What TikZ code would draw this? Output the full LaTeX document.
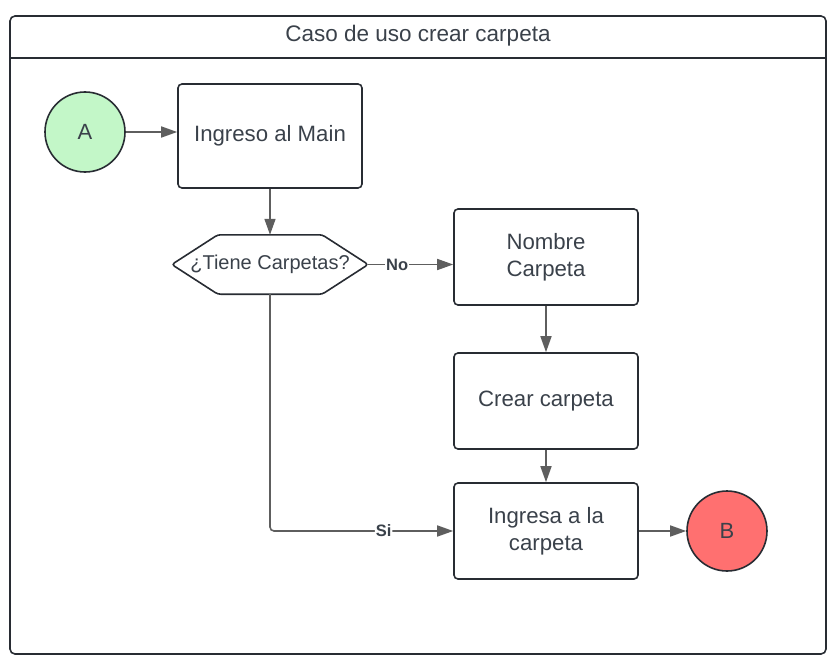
\documentclass[tikz,border=0pt]{standalone}
\usepackage{fontspec}
\setmainfont{Liberation Sans}
\usetikzlibrary{arrows.meta,calc}
\definecolor{txt}{HTML}{3A414A}
\definecolor{edge}{HTML}{282C33}
\definecolor{conn}{HTML}{5E5E5E}
\definecolor{agreen}{HTML}{C3F7C8}
\definecolor{bred}{HTML}{FF7070}
\tikzset{
  procbox/.style={draw=edge, line width=1.6pt, rounded corners=4pt, minimum width=184pt, minimum height=96pt, align=center, text=txt, font=\fontsize{22.2}{27}\selectfont, inner sep=0pt},
  endpt/.style={circle, draw=edge, line width=1.6pt, minimum size=80pt, inner sep=0pt, text=txt, font=\fontsize{22}{26}\selectfont},
  conn/.style={draw=conn, line width=1.6pt, -{Triangle[length=16pt,width=11pt]}},
  lbl/.style={fill=white, inner sep=1pt, text=txt, font=\bfseries\fontsize{16.5}{18}\selectfont},
}
\begin{document}
\begin{tikzpicture}[x=1pt,y=-1pt]
\useasboundingbox (0,0) rectangle (838,666);
\draw[draw=edge, line width=1.6pt, rounded corners=5pt] (10,16) rectangle (826,654);
\draw[draw=edge, line width=1.6pt] (10,58) -- (826,58);
\node[text=txt, font=\fontsize{22.5}{26}\selectfont] (title) at (418,36) {Caso de uso crear carpeta};

\node[endpt, fill=agreen] (A) at (85,132) {A};
\node[procbox, minimum height=104pt] (main) at (270,136) {Ingreso al Main};
\node[minimum width=196pt, minimum height=59pt, inner sep=0pt, text=txt, font=\fontsize{20}{24}\selectfont] (hex) at (270,264.5) {¿Tiene Carpetas?};
\draw[draw=edge, line width=1.6pt, rounded corners=3pt]
  (hex.west) -- ($(hex.north west)+(46,0)$) -- ($(hex.north east)+(-46,0)$) -- (hex.east)
  -- ($(hex.south east)+(-46,0)$) -- ($(hex.south west)+(46,0)$) -- cycle;
\node[procbox] (nombre) at (546,257) {Nombre\\Carpeta};
\node[procbox] (crear) at (546,401) {Crear carpeta};
\node[procbox] (ingresa) at (546,531) {Ingresa a la\\carpeta};
\node[endpt, fill=bred] (B) at (727,531) {B};

\draw[conn] (A.east) -- (A.east -| main.west);
\draw[conn] (main) -- (hex);
\draw[conn] (hex.east) -- node[lbl, pos=0.34] {No} (hex.east -| nombre.west);
\draw[conn] (nombre) -- (crear);
\draw[conn] (crear) -- (ingresa);
\draw[conn, rounded corners=4pt] (hex.south) |- node[lbl, pos=0.81] {Si} (ingresa.west);
\draw[conn] (ingresa) -- (B);
\end{tikzpicture}
\end{document}
